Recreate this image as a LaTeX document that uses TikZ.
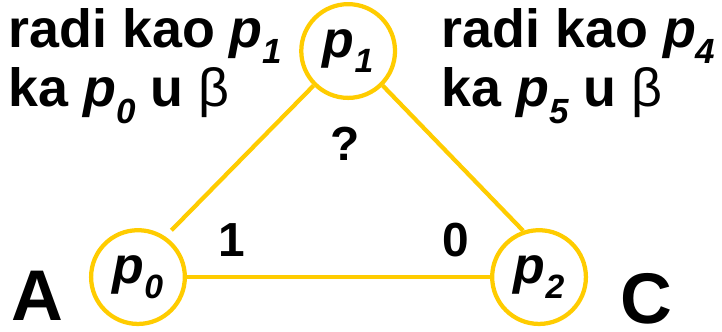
\documentclass[tikz,border=0pt]{standalone}
\usepackage{fontspec}
\setmainfont{Liberation Sans}
\usetikzlibrary{positioning}
\definecolor{gold}{HTML}{FFCC00}
\newcommand{\pv}[1]{\textit{p\raisebox{-0.3em}{\fontsize{0.65em}{1em}\selectfont #1}}}

\begin{document}
\begin{tikzpicture}[
  font=\bfseries\fontsize{36}{45}\selectfont,
  vtx/.style={circle,draw=gold,line width=3.2pt,minimum size=2.48cm,inner sep=0pt,
    font=\bfseries\fontsize{39}{45}\selectfont},
  edge/.style={gold,line width=3.2pt},
  note/.style={align=left,anchor=base west,inner sep=0pt,
    font=\bfseries\fontsize{40.5}{45}\selectfont},
  big/.style={font=\bfseries\fontsize{54}{54}\selectfont,inner sep=0pt}
]
\useasboundingbox (0,0) rectangle (19.10,8.76);
% ---------- processes
\foreach \n/\x/\y in {0/3.65/1.43, 1/9.21/7.41, 2/14.26/1.43}{
  \node[vtx] (p\n) at (\x,\y) {\pv{\n}};
}
% ---------- channels
\draw[edge,shorten >=6.5pt] (p1.225) -- (p0.56);
\draw[edge] (p1.315) -- (p2.109);
\draw[edge] (p0) -- (p2);
\node (q) at (9.13,4.95) {?};
\node (one) at (6.14,2.41) {1};
\node (zero) at (12.07,2.41) {0};

% ---------- notes
\node[note] (left) at (0.22,5.93) {radi kao \pv{1}\\ka \pv{0} u {\mdseries β}};
\node[note] (right) at (11.68,5.93) {radi kao \pv{4}\\ka \pv{5} u {\mdseries β}};
\node[big,anchor=base west] (A) at (0.30,0.29) {A};
\node[big,anchor=base] (C) at (17.09,0.21) {C};
\end{tikzpicture}
\end{document}
